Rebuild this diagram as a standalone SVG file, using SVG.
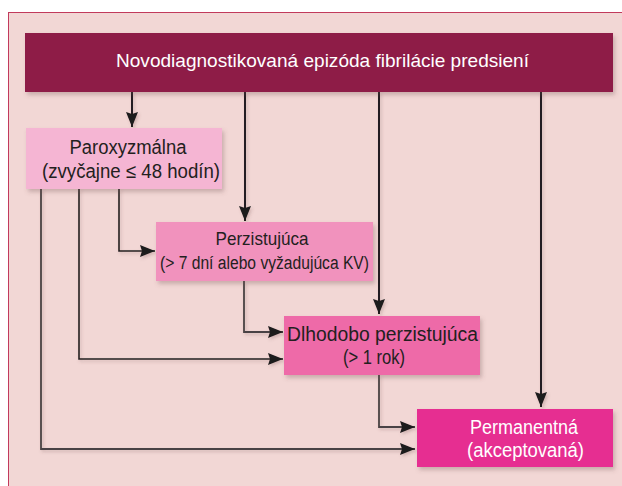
<svg xmlns="http://www.w3.org/2000/svg" width="622" height="486" viewBox="0 0 622 486">
<defs>
<style>
.t{font-family:"Liberation Sans",Arial,sans-serif;fill:#231f20;text-anchor:middle}
.w{fill:#ffffff}
.c{fill:none;stroke:#231f20;stroke-width:1.6}
.g{stroke:#4a4344;stroke-width:1.8}
.b{stroke-width:2}
</style>
<filter id="sh" x="-10%" y="-10%" width="125%" height="130%">
<feDropShadow dx="2" dy="3" stdDeviation="2" flood-color="#6b4a4a" flood-opacity="0.3"/>
</filter>
<filter id="lsh" x="-5%" y="-5%" width="110%" height="110%">
<feDropShadow dx="1.5" dy="2" stdDeviation="1.5" flood-color="#6b4a4a" flood-opacity="0.25"/>
</filter>
<marker id="ah" markerUnits="userSpaceOnUse" markerWidth="16" markerHeight="14" refX="15" refY="6" orient="auto">
<path d="M0,0 L15,6 L0,12 L2,6 z" fill="#1f1a1c"/>
</marker>
</defs>
<rect x="0" y="0" width="622" height="486" fill="#ffffff"/>
<rect x="8.5" y="12.5" width="620" height="480" fill="#f2d7d5" stroke="#c23a5c" stroke-width="1"/>

<g id="connectors" filter="url(#lsh)">
<path class="c b" d="M132,92 V127" marker-end="url(#ah)"/>
<path class="c b" d="M245,92 V221" marker-end="url(#ah)"/>
<path class="c b" d="M379,92 V314" marker-end="url(#ah)"/>
<path class="c b" d="M541,92 V407" marker-end="url(#ah)"/>
<path class="c" d="M119,189 V251 H155" marker-end="url(#ah)"/>
<path class="c" d="M79,189 V359 H283" marker-end="url(#ah)"/>
<path class="c g" d="M41,189 V449 H415" marker-end="url(#ah)"/>
<path class="c g" d="M244,281 V332 H283" marker-end="url(#ah)"/>
<path class="c g" d="M379,375 V427 H415" marker-end="url(#ah)"/>
</g>

<g id="n-top">
<rect x="25" y="33" width="588" height="59" fill="#8e1a47" filter="url(#sh)"/>
<text class="t w" x="322.5" y="67" font-size="19" textLength="413" lengthAdjust="spacingAndGlyphs">Novodiagnostikovaná epizóda fibrilácie predsien&#237;</text>
</g>

<g id="n-paroxyzmalna">
<rect x="26" y="128" width="196" height="61" fill="#f5b5d3" filter="url(#sh)"/>
<text class="t" x="128" y="154" font-size="20" textLength="117" lengthAdjust="spacingAndGlyphs">Paroxyzmálna</text>
<text class="t" x="131" y="178" font-size="20" textLength="178" lengthAdjust="spacingAndGlyphs">(zvyčajne ≤ 48 hodín)</text>
</g>

<g id="n-perzistujuca">
<rect x="156" y="222" width="217" height="59" fill="#f192bd" filter="url(#sh)"/>
<text class="t" x="262" y="245" font-size="19" textLength="93" lengthAdjust="spacingAndGlyphs">Perzistujúca</text>
<text class="t" x="264.5" y="269" font-size="18" textLength="209" lengthAdjust="spacingAndGlyphs">(&gt; 7 dní alebo vyžadujúca KV)</text>
</g>

<g id="n-dlhodobo">
<rect x="284" y="316" width="196" height="59" fill="#ee6aa8" filter="url(#sh)"/>
<text class="t" x="382.5" y="341" font-size="20" textLength="191" lengthAdjust="spacingAndGlyphs">Dlhodobo perzistujúca</text>
<text class="t" x="374" y="364" font-size="20" textLength="62" lengthAdjust="spacingAndGlyphs">(&gt; 1 rok)</text>
</g>

<g id="n-permanentna">
<rect x="417" y="409" width="196" height="58" fill="#e62e91" filter="url(#sh)"/>
<text class="t w" x="524" y="434" font-size="20" textLength="108" lengthAdjust="spacingAndGlyphs">Permanentná</text>
<text class="t w" x="525.5" y="457" font-size="20" textLength="117" lengthAdjust="spacingAndGlyphs">(akceptovaná)</text>
</g>
</svg>
